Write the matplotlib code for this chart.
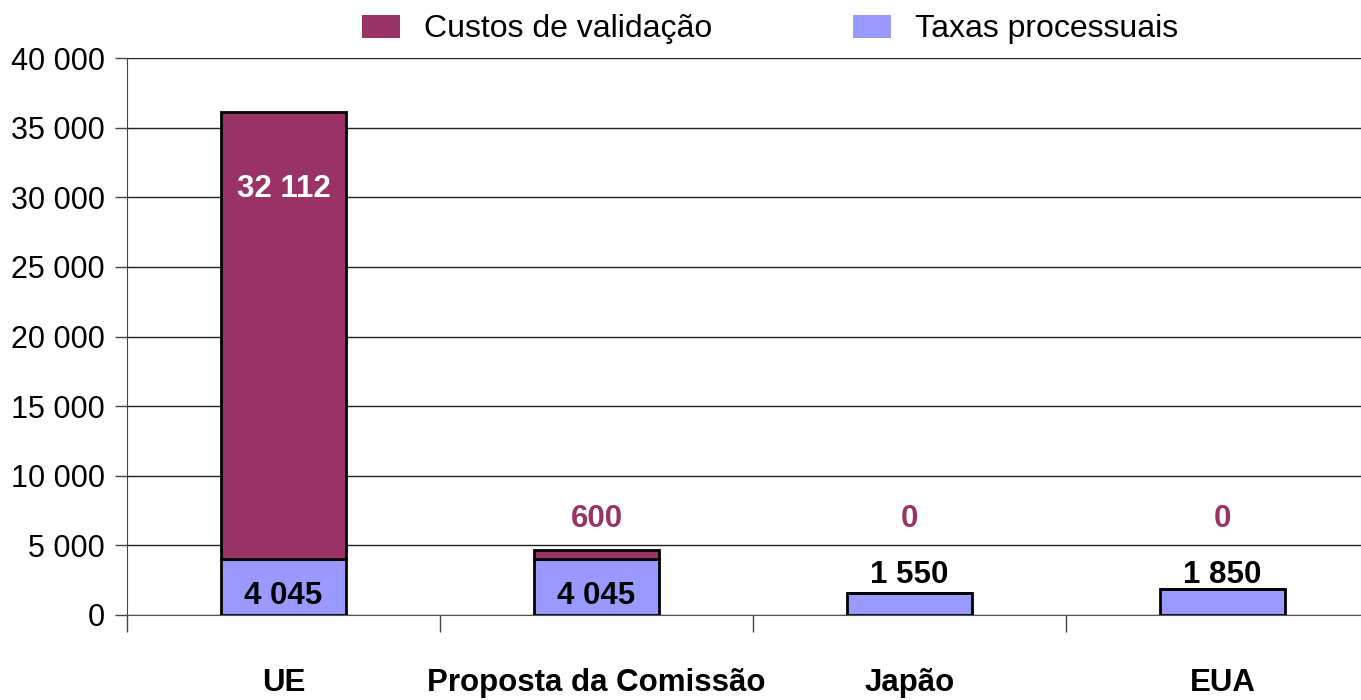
import matplotlib
matplotlib.use("Agg")
import matplotlib.pyplot as plt
from matplotlib.patches import Patch
from matplotlib.ticker import FixedLocator, FuncFormatter

categories = ["UE", "Proposta da Comissão", "Japão", "EUA"]
taxas = [4045, 4045, 1550, 1850]
custos = [32112, 600, 0, 0]
yticks = [0, 5000, 10000, 15000, 20000, 25000, 30000, 35000, 40000]

PURPLE = "#993366"
BLUE = "#9999FF"

plt.rcParams['font.family'] = ['Liberation Sans', 'DejaVu Sans']

def fmt(v):
    return f"{int(v):,}".replace(",", " ")

fig = plt.figure(figsize=(13.61, 7.0), dpi=100)
ax = fig.add_axes([127/1361, 85/700, 1252/1361, 557/700])

x = list(range(len(categories)))
ax.bar(x, taxas, width=0.40, color=BLUE, edgecolor="black", linewidth=2.0, zorder=3)
ax.bar(x, custos, width=0.40, bottom=taxas, color=PURPLE, edgecolor="black", linewidth=2.0, zorder=3)

ax.set_xlim(-0.5, len(categories) - 0.5)
ax.set_ylim(0, 40000)
ax.set_yticks(yticks)
ax.yaxis.set_major_formatter(FuncFormatter(lambda v, p: fmt(v)))
ax.tick_params(axis='y', labelsize=22, length=9, width=1, direction='out', pad=7, color="#444444")
ax.yaxis.grid(True, color="#222222", linewidth=1.0, zorder=0)
ax.set_axisbelow(True)

ax.set_xticks(x)
ax.set_xticklabels(categories, fontsize=22.5, fontweight='bold')
ax.tick_params(axis='x', which='major', length=0, pad=38)
ax.xaxis.set_minor_locator(FixedLocator([i - 0.5 for i in x]))
ax.tick_params(axis='x', which='minor', length=12, width=1, color="#444444", direction='out')

for s in ["top", "right"]:
    ax.spines[s].set_visible(False)
ax.spines["left"].set_color("#444444")
ax.spines["bottom"].set_color("#555555")

# labels
for i in x:
    total = taxas[i] + custos[i]
    if taxas[i] > 3000:
        ax.text(i, 1400, fmt(taxas[i]), ha='center', va='center', fontsize=22.5,
                fontweight='bold', color='black', zorder=5)
    else:
        ax.text(i, 2870, fmt(taxas[i]), ha='center', va='center', fontsize=22.5,
                fontweight='bold', color='black', zorder=5)
    if custos[i] > 10000:
        ax.text(i, total - 5600, fmt(custos[i]), ha='center', va='center', fontsize=22.5,
                fontweight='bold', color='white', zorder=5)
    else:
        ax.text(i, 6900, fmt(custos[i]), ha='center', va='center', fontsize=22.5,
                fontweight='bold', color=PURPLE, zorder=5)

handles = [Patch(facecolor=PURPLE, edgecolor='none', label="Custos de validação"),
           Patch(facecolor=BLUE, edgecolor='none', label="Taxas processuais")]
fig.legend(handles=handles, loc='center', bbox_to_anchor=(0.566, 0.958), ncol=2,
           frameon=False, fontsize=23, handlelength=1.2, handleheight=0.75,
           handletextpad=0.75, columnspacing=4.4)

fig.savefig("out.png", dpi=100)
